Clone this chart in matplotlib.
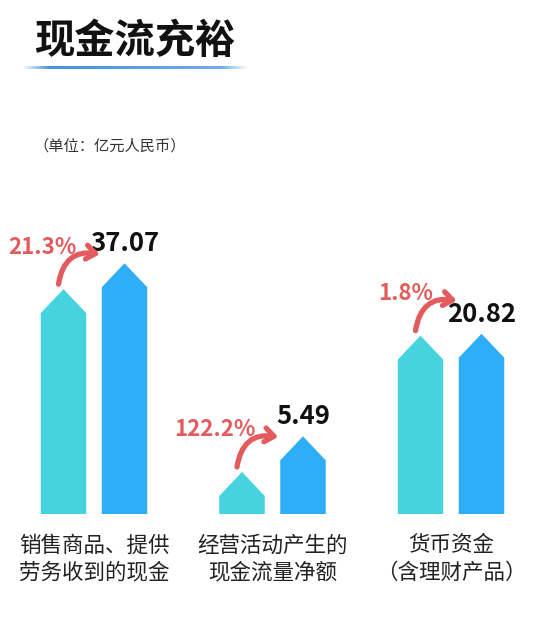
import matplotlib
matplotlib.use('Agg')
import matplotlib.pyplot as plt
import matplotlib.transforms as mtransforms
import numpy as np
from matplotlib.patches import Polygon

# ---------------- data ----------------
title = '现金流充裕'
unit_label = '（单位：亿元人民币）'
categories = ['销售商品、提供\n劳务收到的现金', '经营活动产生的\n现金流量净额', '货币资金\n（含理财产品）']
current_values = [37.07, 5.49, 20.82]
previous_values = [30.56, 2.47, 20.45]
growth_labels = ['21.3%', '122.2%', '1.8%']

# ---------------- style ----------------
CYAN = '#45D4DF'
BLUE = '#2DAEF6'
RED = '#E35B5D'

plt.rcParams['font.family'] = ['Noto Sans CJK SC', 'DejaVu Sans']

W, H = 544, 617
fig = plt.figure(figsize=(W / 100, H / 100), dpi=100)
fig.patch.set_facecolor('white')

ax_bottom_px, ax_top_px = 514, 214
ax = fig.add_axes([0, (H - ax_bottom_px) / H, 1, (ax_bottom_px - ax_top_px) / H])
ax.set_yscale('function',
              functions=(lambda v: np.sqrt(np.clip(v, 0, None)),
                         lambda s: np.square(s)))
ymin, ymax = 0.438, 51.2
ax.set_ylim(ymin, ymax)
px_per_unit = 178.5
ax.set_xlim(-94 / px_per_unit, (W - 94) / px_per_unit)
ax.axis('off')

off = 30.5 / px_per_unit
bw = 45.5 / px_per_unit
TIP = 24  # pixel height of the arrow tip
IDT = mtransforms.IdentityTransform()

x = np.arange(len(categories))


def arrow_bar(xc, v, color):
    (xl, base) = ax.transData.transform((xc - bw / 2, ymin))
    (xr, peak) = ax.transData.transform((xc + bw / 2, v))
    xm = (xl + xr) / 2
    sh = max(peak - TIP, base)
    verts = [(xl, base), (xl, sh), (xm, peak), (xr, sh), (xr, base)]
    fig.add_artist(Polygon(verts, closed=True, facecolor=color,
                           edgecolor='none', transform=IDT))
    return xl, xm, xr, peak


PT = 0.72  # points per pixel at dpi 100

for i in x:
    xc_prev, xc_cur = i - off, i + off
    pl, pm, pr, ppeak = arrow_bar(xc_prev, previous_values[i], CYAN)
    cl, cm, cr, cpeak = arrow_bar(xc_cur, current_values[i], BLUE)

    # value label above the current bar
    ax.annotate(f'{current_values[i]:.2f}', (xc_cur, current_values[i]),
                xytext=(0, 12 * PT), textcoords='offset points',
                ha='center', va='baseline', fontsize=18.5,
                fontweight='bold', color='#111111')

    # curved growth arrow
    start = (pm - 5, ppeak + 5)
    end = (cl - 2, start[1] + 30)
    ax.annotate('', xy=end, xycoords='figure pixels',
                xytext=start, textcoords='figure pixels',
                arrowprops=dict(arrowstyle='->,head_length=0.65,head_width=0.5',
                                connectionstyle='arc3,rad=-0.5',
                                color=RED, lw=3.8, shrinkA=0, shrinkB=0,
                                capstyle='round', joinstyle='round'))
    fig.text((start[0] + 18) / W, (start[1] + 37) / H, growth_labels[i],
             ha='right', va='center', fontsize=16, fontweight='bold',
             color=RED)

# category labels
trans = mtransforms.blended_transform_factory(ax.transData, fig.transFigure)
for i, lab in zip(x, categories):
    ax.text(i, 1 - 559 / H, lab, transform=trans, ha='center', va='center',
            fontsize=15.5, color='#222222', linespacing=1.3, clip_on=False)

# title
fig.text(34 / W, 1 - 41 / H, title, fontsize=29, fontweight='black',
         color='#111111', va='center', ha='left')

# gradient underline
lax = fig.add_axes([22 / W, 1 - 69 / H, 226 / W, 3 / H])
t = np.linspace(0, 1, 256)
alpha = np.clip(np.minimum(t / 0.12, (1 - t) / 0.12), 0, 1)
base_col = np.array([0.24, 0.56, 0.87])
rgba = np.zeros((1, 256, 4))
rgba[0, :, :3] = base_col
rgba[0, :, 3] = alpha * (1.0 - 0.3 * t)
lax.imshow(rgba, aspect='auto', extent=(0, 1, 0, 1))
lax.axis('off')

# unit
fig.text(33 / W, 1 - 146 / H, unit_label, fontsize=11, color='#333333',
         va='center', ha='left')

fig.savefig('out.png', dpi=100, facecolor='white')
